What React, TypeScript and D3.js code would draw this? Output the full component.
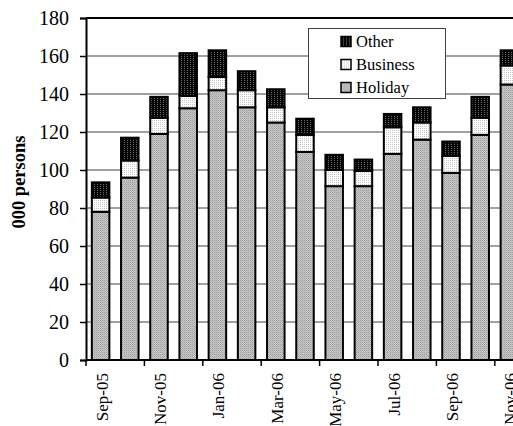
import React, { useRef, useEffect } from 'react';
import * as d3 from 'd3';

const months = [
  'Sep-05', 'Oct-05', 'Nov-05', 'Dec-05', 'Jan-06', 'Feb-06', 'Mar-06', 'Apr-06',
  'May-06', 'Jun-06', 'Jul-06', 'Aug-06', 'Sep-06', 'Oct-06', 'Nov-06',
];
const holiday = [78, 96, 119, 132.5, 142, 133, 125, 109.5, 91.5, 91.5, 108.5, 116, 98.5, 118.5, 145];
const business = [7.5, 9, 8.5, 6.5, 7, 9, 8, 9, 8.5, 8, 14, 9, 9, 9, 10];
const other = [8, 12, 11, 22.5, 14, 10, 9.5, 8.5, 8, 6, 7, 8, 7.5, 11, 8];
const yTicks = [0, 20, 40, 60, 80, 100, 120, 140, 160, 180];
const seriesNames = ['Holiday', 'Business', 'Other'];

function Chart() {
  const chartRef = useRef(null);

  useEffect(() => {
    const svg = d3.select(chartRef.current);
    svg.selectAll('*').remove();

    const left = 86;
    const top = 18;
    const bottom = 360;
    const step = 29.2;
    const font = "'Liberation Serif', 'Times New Roman', serif";

    // patterns for the fills
    const defs = svg.append('defs');
    const pHol = defs.append('pattern').attr('id', 'pHol').attr('patternUnits', 'userSpaceOnUse')
      .attr('width', 2).attr('height', 2);
    pHol.append('rect').attr('width', 2).attr('height', 2).attr('fill', '#c6c6c6');
    pHol.append('rect').attr('width', 1).attr('height', 1).attr('fill', '#a0a0a0');
    pHol.append('rect').attr('x', 1).attr('y', 1).attr('width', 1).attr('height', 1).attr('fill', '#b4b4b4');

    const pBus = defs.append('pattern').attr('id', 'pBus').attr('patternUnits', 'userSpaceOnUse')
      .attr('width', 2).attr('height', 2);
    pBus.append('rect').attr('width', 2).attr('height', 2).attr('fill', '#ffffff');
    pBus.append('rect').attr('width', 1).attr('height', 1).attr('fill', '#c4c4c4');

    const pOth = defs.append('pattern').attr('id', 'pOth').attr('patternUnits', 'userSpaceOnUse')
      .attr('width', 3).attr('height', 2);
    pOth.append('rect').attr('width', 3).attr('height', 2).attr('fill', '#050505');
    pOth.append('rect').attr('x', 1).attr('width', 1).attr('height', 1).attr('fill', '#6a6a6a');

    const fills = { Holiday: 'url(#pHol)', Business: 'url(#pBus)', Other: 'url(#pOth)' };

    const data = months.map((m, i) => ({
      month: m,
      Holiday: holiday[i],
      Business: business[i],
      Other: other[i],
    }));

    const x = d3.scaleBand()
      .domain(months)
      .range([left, left + step * months.length])
      .paddingInner(0.4)
      .paddingOuter(0.2);

    const y = d3.scaleLinear().domain([0, 180]).range([bottom, top]);

    // gridlines
    svg.append('g')
      .selectAll('line')
      .data(yTicks.slice(1, -1))
      .enter()
      .append('line')
      .attr('x1', left)
      .attr('x2', 513)
      .attr('y1', (d) => y(d))
      .attr('y2', (d) => y(d))
      .attr('stroke', '#808080')
      .attr('stroke-width', 1.5);

    // plot area top border
    svg.append('line')
      .attr('x1', left).attr('x2', 513)
      .attr('y1', top).attr('y2', top)
      .attr('stroke', '#000').attr('stroke-width', 2);

    // stacked bars
    const stacked = d3.stack().keys(seriesNames)(data);
    svg.append('g')
      .selectAll('g')
      .data(stacked)
      .enter()
      .append('g')
      .attr('fill', (s) => fills[s.key])
      .selectAll('rect')
      .data((s) => s)
      .enter()
      .append('rect')
      .attr('x', (d) => x(d.data.month))
      .attr('y', (d) => y(d[1]))
      .attr('width', x.bandwidth())
      .attr('height', (d) => y(d[0]) - y(d[1]))
      .attr('stroke', '#000')
      .attr('stroke-width', 2);

    // y axis
    const yAxis = svg.append('g')
      .attr('transform', `translate(${left},0)`)
      .call(d3.axisLeft(y).tickValues(yTicks).tickSize(6).tickPadding(11));
    yAxis.attr('font-family', null).attr('font-size', null);
    yAxis.select('.domain').attr('stroke', '#000').attr('stroke-width', 2);
    yAxis.selectAll('.tick line').attr('stroke', '#000').attr('stroke-width', 1.5);
    yAxis.selectAll('text')
      .style('font-family', font)
      .style('font-size', '20px')
      .attr('fill', '#000');

    // x axis line
    svg.append('line')
      .attr('x1', left).attr('x2', 513)
      .attr('y1', bottom).attr('y2', bottom)
      .attr('stroke', '#000').attr('stroke-width', 2);

    const labelled = months.filter((m, i) => i % 2 === 0);
    const gap = (x.step() - x.bandwidth()) / 2;

    // tick marks at category boundaries, every second category
    svg.append('g')
      .selectAll('line')
      .data(labelled)
      .enter()
      .append('line')
      .attr('x1', (d) => x(d) - gap)
      .attr('x2', (d) => x(d) - gap)
      .attr('y1', bottom)
      .attr('y2', bottom + 6)
      .attr('stroke', '#000')
      .attr('stroke-width', 1.5);

    svg.append('g')
      .selectAll('text')
      .data(labelled)
      .enter()
      .append('text')
      .attr('transform', (d) => `translate(${x(d) + x.bandwidth() / 2 + 1},${bottom + 13}) rotate(-90)`)
      .attr('text-anchor', 'end')
      .attr('dy', '0.35em')
      .style('font-family', font)
      .style('font-size', '17px')
      .attr('fill', '#000')
      .text((d) => d);

    // y axis title
    svg.append('text')
      .attr('transform', `translate(25,182) rotate(-90)`)
      .attr('text-anchor', 'middle')
      .style('font-family', font)
      .style('font-weight', 'bold')
      .style('font-size', '18.5px')
      .attr('fill', '#000')
      .text('000 persons');

    // legend
    const legend = svg.append('g');
    legend.append('rect')
      .attr('x', 308.5).attr('y', 28.5)
      .attr('width', 137).attr('height', 70)
      .attr('fill', '#fff')
      .attr('stroke', '#404040')
      .attr('stroke-width', 1);
    const legendItems = ['Other', 'Business', 'Holiday'];
    const legendY = d3.scalePoint().domain(legendItems).range([41.5, 87.5]);
    const item = legend.selectAll('g.item')
      .data(legendItems)
      .enter()
      .append('g')
      .attr('class', 'item')
      .attr('transform', (d) => `translate(0,${legendY(d)})`);
    item.append('rect')
      .attr('x', 341).attr('y', -5)
      .attr('width', 10).attr('height', 10)
      .attr('fill', (d) => fills[d])
      .attr('stroke', '#000')
      .attr('stroke-width', 1.5);
    item.append('text')
      .attr('x', 356)
      .attr('dy', '0.34em')
      .style('font-family', font)
      .style('font-size', '16.5px')
      .attr('fill', '#000')
      .text((d) => d);
  }, []);

  return (
    <svg
      ref={chartRef}
      width={513}
      height={426}
      style={{ position: 'absolute', left: 0, top: 0, background: '#fff' }}
    ></svg>
  );
}

export default function App() {
  return <Chart />;
}
